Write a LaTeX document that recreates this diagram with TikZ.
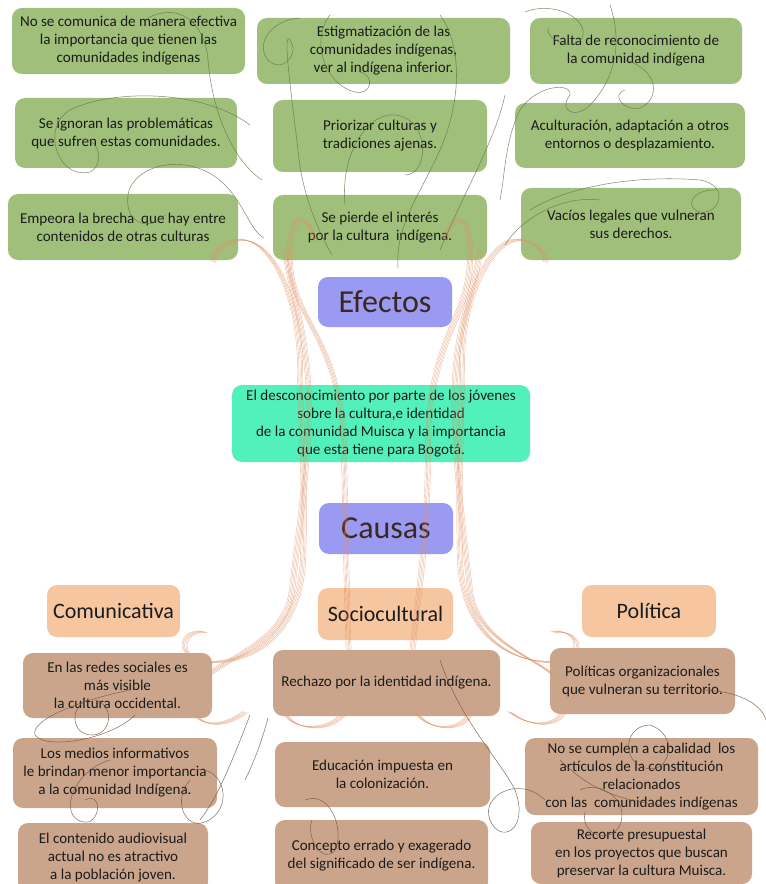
\documentclass[tikz,border=0pt]{standalone}
\usepackage{fontspec}
\setmainfont{Carlito}
\begin{document}
\begin{tikzpicture}[x=0.75pt,y=-0.75pt,
  base/.style={rectangle, rounded corners=7.5pt, inner sep=0pt, align=center, text=txt,
    font=\fontsize{11.3}{13.5}\selectfont},
  green/.style={base, fill=boxgreen, fill opacity=0.97, text opacity=1},
  cause/.style={base, fill=boxbrown, fill opacity=0.95, text opacity=1},
  title/.style={base, fill=titleblue, text=titletxt, font=\fontsize{24}{28}\selectfont},
  cat/.style={base, fill=peach, font=\fontsize{16.5}{20}\selectfont},
  central/.style={base, fill=centergreen},
  bund/.style={draw=bundcol, line width=0.3pt, opacity=0.6},
  gsw/.style={draw=swgreen, line width=0.4pt, opacity=0.8},
  bsw/.style={draw=swbrown, line width=0.4pt, opacity=0.8}]
\definecolor{txt}{RGB}{28,28,28}
\definecolor{titletxt}{RGB}{58,40,32}
\definecolor{boxgreen}{RGB}{157,189,118}
\definecolor{boxbrown}{RGB}{201,161,133}
\definecolor{titleblue}{RGB}{154,154,242}
\definecolor{peach}{RGB}{245,198,160}
\definecolor{centergreen}{RGB}{82,240,186}
\definecolor{bundcol}{RGB}{225,145,100}
\definecolor{swgreen}{RGB}{100,118,70}
\definecolor{swbrown}{RGB}{115,82,60}
\newcommand{\bx}[7]{%
  \pgfmathsetmacro\bxw{(#4-#2)*0.75}%
  \pgfmathsetmacro\bxh{(#5-#3)*0.75}%
  \node[#6, minimum width=\bxw pt, minimum height=\bxh pt] (#1) at ({(#2+#4)/2},{(#3+#5)/2}) {#7};}
\newcommand{\bundle}[1]{\foreach \d in {-2.6,-1.3,0,1.3,2.6}{\draw[bund,shift={(\d,0.3*\d)}] #1;}}
\useasboundingbox (0,0) rectangle (766,884);
\fill[white] (0,0) rectangle (766,884);

% ---------- boxes: effects ----------
\bx{e1}{12}{8}{245}{74}{green}{No se comunica de manera efectiva\\la importancia que tienen las\\comunidades indígenas}
\bx{e2}{15}{98}{237}{168}{green}{Se ignoran las problemáticas\\que sufren estas comunidades.}
\bx{e3}{8}{194}{238}{260}{green}{Empeora la brecha\ \ que hay entre\\contenidos de otras culturas}
\bx{e4}{257}{18}{510}{84}{green}{Estigmatización de las\\comunidades indígenas,\\ver al indígena inferior.}
\bx{e5}{273}{100}{487}{172}{green}{Priorizar culturas y\\tradiciones ajenas.}
\bx{e6}{273}{195}{487}{260}{green}{Se pierde el interés\\por la cultura\ \ indígena.}
\bx{e7}{530}{18}{742}{84}{green}{Falta de reconocimiento de\\la comunidad indígena}
\bx{e8}{515}{103}{745}{168}{green}{Aculturación, adaptación a otros\\entornos o desplazamiento.}
\bx{e9}{521}{188}{741}{260}{green}{Vacíos legales que vulneran\\sus derechos.}

% ---------- center ----------
\bx{efectos}{318}{277}{452}{327}{title}{Efectos}
\bx{centro}{232}{385}{530}{462}{central}{El desconocimiento por parte de los jóvenes\\sobre la cultura,e identidad\\de la comunidad Muisca y la importancia\\que esta tiene para Bogotá.}
\bx{causas}{319}{503}{453}{554}{title}{Causas}

% ---------- categories ----------
\bx{comu}{47}{585}{180}{637}{cat}{Comunicativa}
\bx{socio}{318}{588}{453}{640}{cat}{Sociocultural}
\bx{poli}{582}{585}{716}{637}{cat}{Política}

% ---------- bundles (decorative) ----------
\bundle{(205,632) .. controls (180,628) and (172,662) .. (215,662) .. controls (262,660) and (300,625) .. (303,560) .. controls (306,480) and (300,420) .. (300,360) .. controls (298,300) and (275,245) .. (245,240) .. controls (228,238) and (214,250) .. (213,262)}
\bundle{(245,712) .. controls (215,735) and (182,722) .. (195,690) .. controls (208,660) and (285,650) .. (292,590) .. controls (300,520) and (312,440) .. (308,380) .. controls (304,320) and (290,290) .. (285,250)}
\bundle{(315,240) .. controls (305,205) and (288,215) .. (290,262) .. controls (292,320) and (342,340) .. (344,450) .. controls (346,560) and (348,640) .. (350,690) .. controls (352,735) and (292,735) .. (285,712)}
\bundle{(445,240) .. controls (455,205) and (472,215) .. (470,262) .. controls (468,320) and (428,340) .. (428,450) .. controls (428,560) and (410,640) .. (410,690) .. controls (410,735) and (465,735) .. (470,712)}
\bundle{(553,632) .. controls (582,628) and (588,662) .. (548,662) .. controls (500,660) and (462,625) .. (460,560) .. controls (458,480) and (462,420) .. (462,360) .. controls (462,300) and (488,245) .. (515,240) .. controls (532,238) and (545,250) .. (545,262)}
\bundle{(510,712) .. controls (540,735) and (575,722) .. (565,690) .. controls (555,660) and (478,650) .. (470,590) .. controls (462,520) and (452,440) .. (455,380) .. controls (458,320) and (475,290) .. (480,250)}

% ---------- boxes: causes ----------
\bx{c1}{23}{653}{212}{718}{cause}{En las redes sociales es\\más visible\\la cultura occidental.}
\bx{c2}{13}{738}{217}{808}{cause}{Los medios informativos\\le brindan menor importancia\\a la comunidad Indígena.}
\bx{c3}{18}{823}{208}{892}{cause}{El contenido audiovisual\\actual no es atractivo\\a la población joven.}
\bx{c4}{273}{650}{500}{716}{cause}{Rechazo por la identidad indígena.}
\bx{c5}{275}{742}{490}{807}{cause}{Educación impuesta en\\la colonización.}
\bx{c6}{275}{820}{488}{892}{cause}{Concepto errado y exagerado\\del significado de ser indígena.}
\bx{c7}{550}{648}{735}{714}{cause}{Políticas organizacionales\\que vulneran su territorio.}
\bx{c8}{525}{738}{758}{815}{cause}{No se cumplen a cabalidad\ \ los\\artículos de la constitución\\relacionados\\con las\ \ comunidades indígenas}
\bx{c9}{531}{822}{752}{884}{cause}{Recorte presupuestal\\en los proyectos que buscan\\preservar la cultura Muisca.}

% ---------- green swirls (decorative) ----------
\draw[gsw] (148,18) .. controls (178,2) and (205,22) .. (208,60) .. controls (212,110) and (232,160) .. (262,180);
\draw[gsw] (250,125) .. controls (200,88) and (110,90) .. (70,110) .. controls (40,128) and (58,180) .. (90,172) .. controls (106,164) and (98,136) .. (82,140);
\draw[gsw] (165,215) .. controls (150,232) and (124,224) .. (128,195) .. controls (133,163) and (192,150) .. (226,186) .. controls (245,206) and (250,230) .. (264,238);
\draw[gsw] (300,18) .. controls (270,20) and (255,45) .. (268,60) .. controls (282,74) and (300,55) .. (290,40) .. controls (282,28) and (292,100) .. (298,150) .. controls (302,195) and (318,230) .. (332,255);
\draw[gsw] (330,15) .. controls (310,40) and (325,85) .. (355,92) .. controls (372,96) and (375,75) .. (360,72);
\draw[gsw] (345,205) .. controls (340,150) and (370,112) .. (395,115) .. controls (430,118) and (430,175) .. (405,175);
\draw[gsw] (440,15) .. controls (462,45) and (462,100) .. (440,150) .. controls (420,195) and (395,225) .. (398,268);
\draw[gsw] (505,95) .. controls (495,140) and (470,180) .. (440,250);
\draw[gsw] (525,12) .. controls (555,0) and (590,20) .. (582,38) .. controls (575,52) and (545,40) .. (548,28);
\draw[gsw] (610,5) .. controls (625,50) and (610,85) .. (590,105) .. controls (575,120) and (560,110) .. (568,98) .. controls (580,84) and (540,80) .. (520,110) .. controls (505,140) and (505,175) .. (500,200);
\draw[gsw] (625,60) .. controls (660,70) and (660,100) .. (640,108) .. controls (625,112) and (610,95) .. (625,90);
\draw[gsw] (530,210) .. controls (570,185) and (640,175) .. (700,180) .. controls (730,185) and (720,215) .. (700,212) .. controls (685,208) and (690,190) .. (715,190);
\draw[gsw] (505,245) .. controls (520,220) and (560,195) .. (600,200);

% ---------- brown swirls (decorative) ----------
\draw[bsw] (130,690) .. controls (80,700) and (30,720) .. (35,735) .. controls (45,750) and (110,740) .. (135,715);
\draw[bsw] (88,700) .. controls (70,705) and (70,735) .. (92,735) .. controls (112,735) and (115,705) .. (95,700);
\draw[bsw] (250,715) .. controls (225,780) and (215,800) .. (200,820);
\draw[bsw] (195,770) .. controls (225,765) and (235,810) .. (205,822) .. controls (185,830) and (172,800) .. (190,780);
\draw[bsw] (110,760) .. controls (75,770) and (60,810) .. (78,820) .. controls (100,832) and (105,790) .. (85,800);
\draw[bsw] (268,718) .. controls (262,740) and (255,760) .. (245,780);
\draw[bsw] (305,800) .. controls (330,790) and (345,830) .. (335,850) .. controls (325,865) and (305,840) .. (312,820);
\draw[bsw] (440,660) .. controls (460,720) and (500,760) .. (515,790) .. controls (530,830) and (500,845) .. (490,820) .. controls (480,795) and (520,775) .. (545,800);
\draw[bsw] (700,690) .. controls (730,690) and (760,700) .. (766,720);
\draw[bsw] (650,725) .. controls (625,725) and (620,760) .. (645,768) .. controls (670,775) and (680,735) .. (650,725);
\draw[bsw] (580,790) .. controls (600,780) and (630,800) .. (620,825) .. controls (610,845) and (580,835) .. (585,812);
\draw[bsw] (560,760) .. controls (590,790) and (620,800) .. (660,805);
\end{tikzpicture}
\end{document}
